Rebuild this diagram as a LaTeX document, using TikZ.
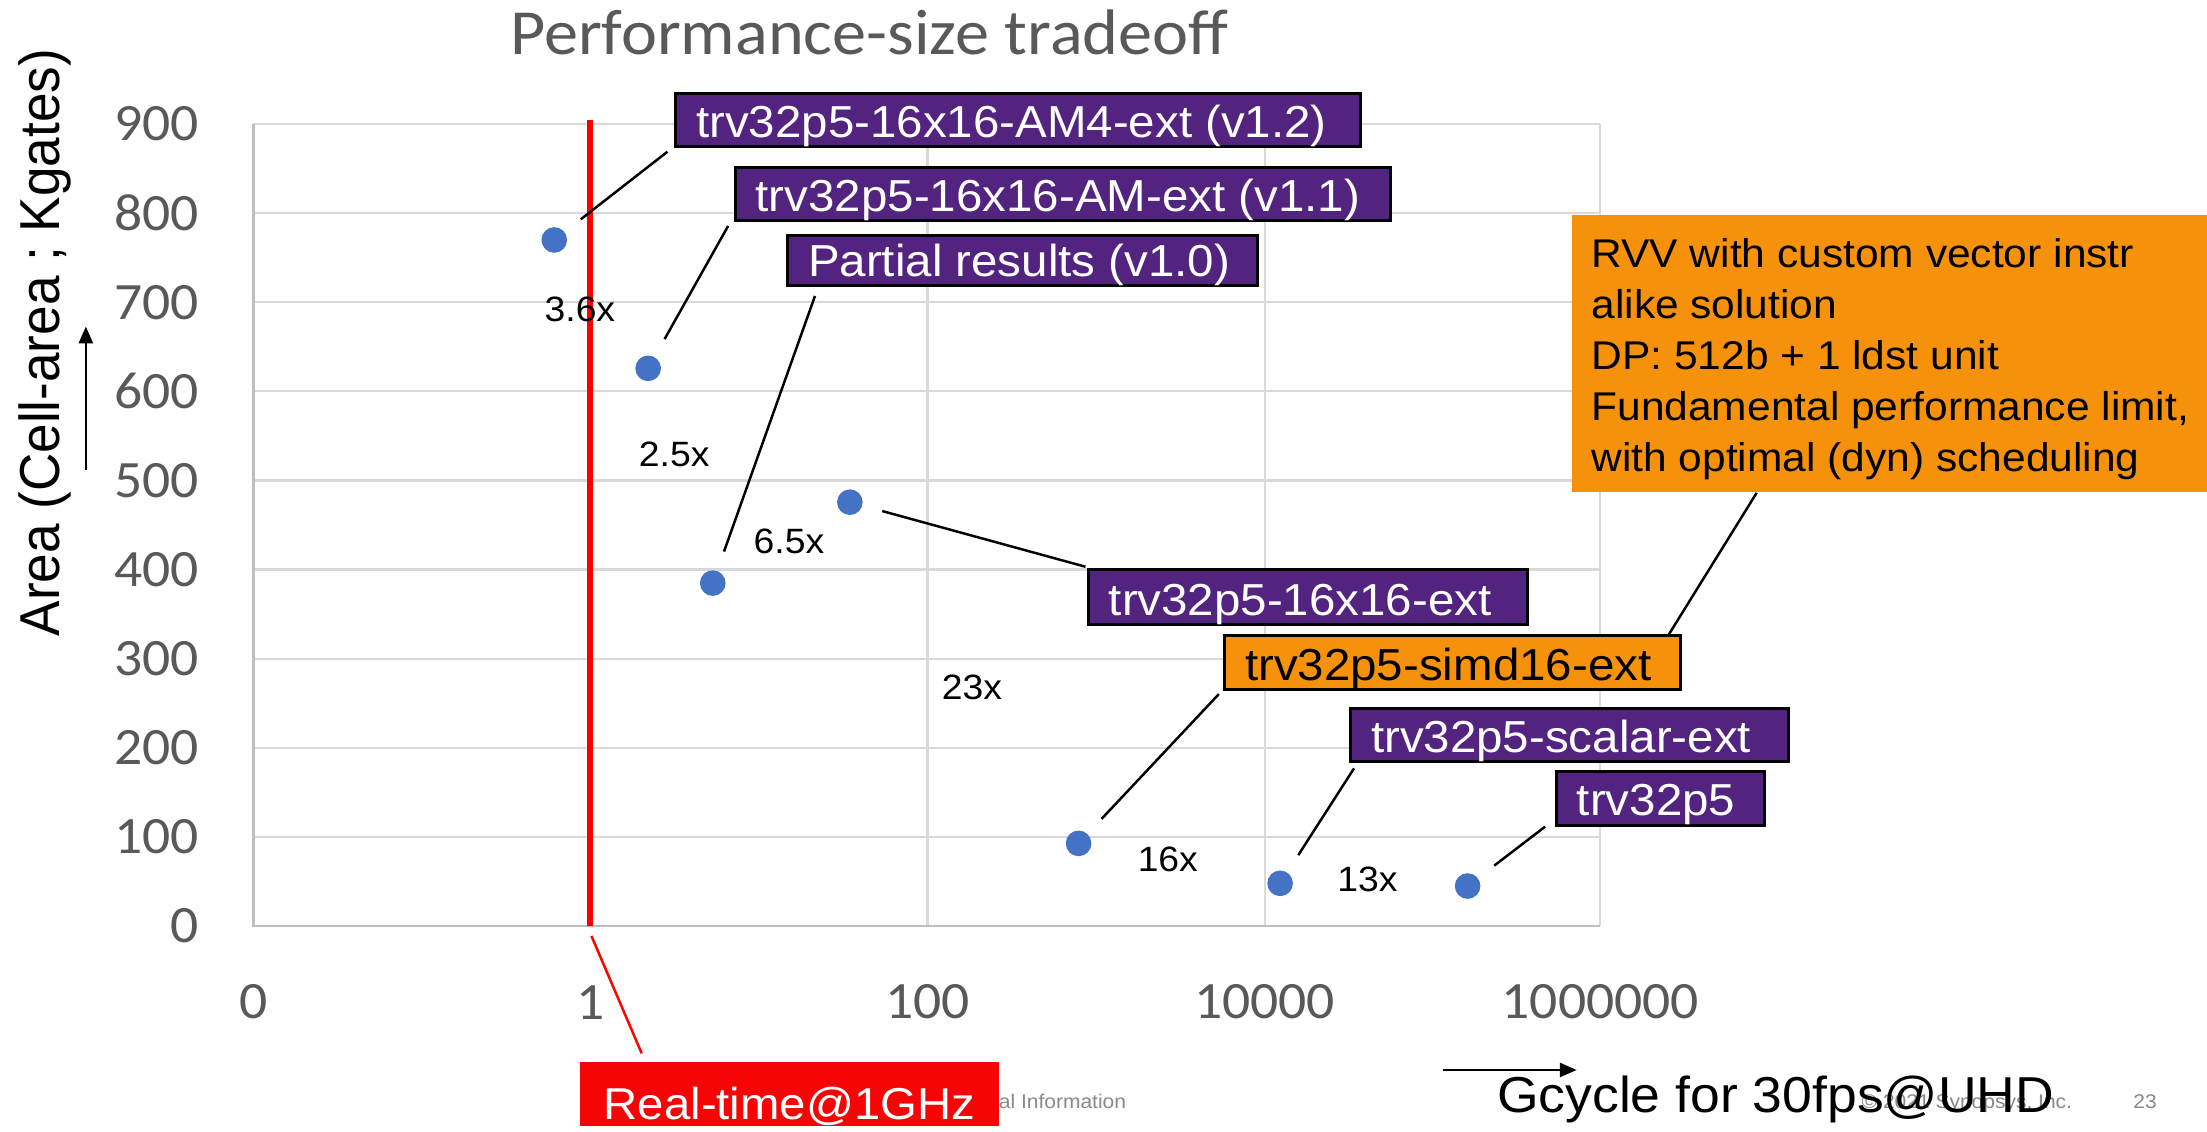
\documentclass[tikz,border=0pt]{standalone}
\usepackage{fontspec}
\usepackage{graphicx}
\setmainfont{Liberation Sans}
\newfontfamily\calibri{Carlito}
\usetikzlibrary{arrows.meta}

\definecolor{labpurple}{RGB}{82,36,128}
\definecolor{laborange}{RGB}{245,145,10}
\definecolor{dotblue}{RGB}{68,114,196}
\definecolor{gridgray}{RGB}{217,217,217}
\definecolor{axisgray}{RGB}{191,191,191}
\definecolor{tickgray}{RGB}{89,89,89}
\definecolor{footgray}{RGB}{137,137,137}
\definecolor{alarmred}{RGB}{245,5,5}

% slightly widened lettering
\newcommand\wx[1]{\scalebox{1.06}[1]{#1}}
\newcommand\lbl[2]{\makebox[#1][l]{\wx{#2}}}

\begin{document}
\begin{tikzpicture}[x=0.01cm, y=-0.01cm,
  txt/.style={inner sep=0pt},
  tick/.style={txt, font=\calibri\fontsize{10.6pt}{12pt}\selectfont, text=tickgray},
  grid line/.style={draw=gridgray, line width=0.45pt},
  dot/.style={circle, fill=dotblue, minimum size=1.82mm, inner sep=0pt},
  tag/.style={draw=black, line width=0.6pt, fill=labpurple, text=white, anchor=south west,
    inner xsep=1.45mm, inner ysep=0pt, text height=3.15mm, text depth=0.65mm,
    font=\fontsize{9.05pt}{11pt}\selectfont},
  factor/.style={txt, font=\fontsize{7.11pt}{9pt}\selectfont},
  leader/.style={draw=black, line width=0.5pt, shorten <=1.4mm},
  foot/.style={txt, anchor=base west, text=footgray, font=\fontsize{4pt}{5pt}\selectfont},
  axarrow/.style={line width=0.5pt, -{Triangle[length=1.2mm,width=1.0mm]}},
]
\useasboundingbox (0,0) rectangle (1568,804);
\fill[white] (0,0) rectangle (1568,804);

% chart title
\node[txt, anchor=base, font=\calibri\fontsize{13pt}{15pt}\selectfont, text=tickgray]
  (title) at (617.5,39) {\wx{Performance-size tradeoff}};

% grid and axes
\foreach \k in {1,...,9}
  \draw[grid line] (180,{658-63.33*\k}) -- (1137,{658-63.33*\k});
\foreach \gx in {419.5,659,898.5,1137}
  \draw[grid line] (\gx,88) -- (\gx,658);
\draw[axisgray, line width=0.5pt] (180,88) -- (180,658) -- (1137,658);

% tick labels
\foreach \v [count=\i from 0] in {0,100,...,900}
  \node[tick, anchor=east] (yt\i) at (142,{658-63.33*\i}) {\wx{\v}};
\foreach \lab/\gx [count=\i] in {0/180,1/419.5,100/659,10000/898.5,1000000/1137}
  \node[tick] (xt\i) at (\gx,712) {\wx{\lab}};

% axis titles
\node[txt, rotate=90, anchor=base, font=\fontsize{10.73pt}{13pt}\selectfont]
  (ytitle) at (42,243.5) {\scalebox{1}[1.06]{Area (Cell-area ; Kgates)}};
\coordinate (ya0) at (61,334);
\coordinate (ya1) at (61,232);
\draw[axarrow] (ya0) -- (ya1);

% footer
\node[foot] (conf) at (709,787.4) {\wx{al Information}};
\node[foot] (copy) at (1322,787.4) {\wx{© 2021 Synopsys, Inc.}};
\node[foot] (page) at (1515,787.4) {\wx{23}};

\node[txt, anchor=base west, font=\fontsize{10.2pt}{12pt}\selectfont]
  (xtitle) at (1063,790.6) {\wx{Gcycle for 30fps@UHD}};
\coordinate (xa0) at (1025,760.2);
\coordinate (xa1) at (1120.2,760.2);
\draw[axarrow] (xa0) -- (xa1);

% real-time limit
\coordinate (rtop) at (419.2,85.3);
\coordinate (rbot) at (419.2,658);
\draw[red, line width=1.1pt] (rtop) -- (rbot);
\coordinate (rtip) at (420.2,665);
\node[fill=alarmred, text=white, anchor=north west, minimum width=29.7mm, inner xsep=0pt,
  inner ysep=0pt, text height=4.07mm, text depth=0.48mm, font=\fontsize{9.02pt}{11pt}\selectfont]
  (rt) at (411.6,753.8) {\wx{Real-time@1GHz}};
\draw[red, line width=0.5pt] (rtip) -- ([xshift=4.43mm,yshift=0.54mm]rt.north west);

% data points
\node[dot] (p1) at (393.8,170.5) {};
\node[dot] (p2) at (460.5,261.7) {};
\node[dot] (p3) at (506.4,414.3) {};
\node[dot] (p4) at (603.8,356.8) {};
\node[dot] (p5) at (766.3,599.2) {};
\node[dot] (p6) at (909.5,627.6) {};
\node[dot] (p7) at (1042.7,629.5) {};

% design labels
\node[tag] (la) at (479,105.4) {\lbl{45.7mm}{trv32p5-16x16-AM4-ext (v1.2)}};
\node[tag] (lb) at (521.4,158) {\lbl{43.6mm}{trv32p5-16x16-AM-ext (v1.1)}};
\node[tag, text height=2.95mm] (lc) at (558.5,204.1) {\lbl{30.5mm}{Partial results (v1.0)}};
\node[tag, text height=3.25mm] (ld) at (772.2,444.8) {\lbl{28.3mm}{trv32p5-16x16-ext}};
\node[tag, fill=laborange, text=black] (le) at (869,490.7) {\lbl{29.5mm}{trv32p5-simd16-ext}};
\node[tag] (lf) at (958.5,542.3) {\lbl{28.2mm}{trv32p5-scalar-ext}};
\node[tag] (lg) at (1104.8,587.3) {\lbl{11.9mm}{trv32p5}};

% vector solution note
\node[fill=laborange, anchor=north west, inner xsep=1.4mm, inner ysep=0pt,
  text height=3.7mm, text depth=15.96mm, font=\fontsize{8.1pt}{10.31pt}\selectfont]
  (rvv) at (1116,152) {\makebox[42.4mm][l]{\wx{\begin{tabular}[t]{@{}l@{}}
    RVV with custom vector instr\\
    alike solution\\
    DP: 512b + 1 ldst unit\\
    Fundamental performance limit,\\
    with optimal (dyn) scheduling
  \end{tabular}}}};

% leader lines
\draw[leader] (p1) -- ([xshift=-0.48mm,yshift=-0.24mm]la.south west);
\draw[leader] (p2) -- ([xshift=-0.41mm,yshift=-0.26mm]lb.south west);
\draw[leader] (p3) -- ([xshift=2.05mm,yshift=-0.62mm]lc.south west);
\draw[leader] (p4) -- ([xshift=-0.1mm,yshift=0.1mm]ld.north west);
\draw[leader] (p5) -- ([xshift=-0.3mm,yshift=-0.24mm]le.south west);
\draw[leader] (p6) -- ([xshift=0.35mm,yshift=-0.36mm]lf.south west);
\draw[leader] (p7) -- ([xshift=-0.7mm]lg.south west);
\draw[draw=black, line width=0.5pt] ([xshift=-0.95mm]le.north east) -- ([xshift=13.2mm]rvv.south west);

% improvement factors
\node[factor] (f1) at (412,219.7) {\wx{3.6x}};
\node[factor] (f2) at (479,322.7) {\wx{2.5x}};
\node[factor] (f3) at (560.5,384.6) {\wx{6.5x}};
\node[factor] (f4) at (690.5,488.5) {\wx{23x}};
\node[factor] (f5) at (829.7,610.4) {\wx{16x}};
\node[factor] (f6) at (971.6,624.7) {\wx{13x}};
\end{tikzpicture}
\end{document}
